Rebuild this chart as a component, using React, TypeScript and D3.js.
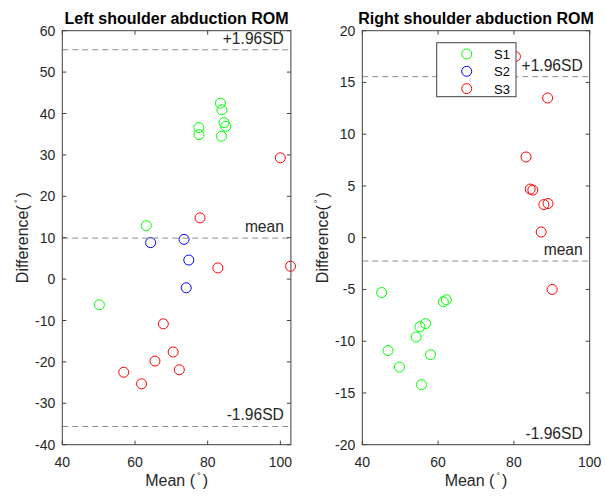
import React from 'react';
import * as d3 from 'd3';

type Pt = [number, number]; // [mean, difference]

// Left shoulder
const leftS1: Pt[] = [[83.5, 42.5], [83.9, 40.9], [84.5, 37.8], [85.0, 36.9], [77.6, 36.6], [77.6, 34.9], [83.8, 34.5], [63.1, 12.9], [50.2, -6.2]];
const leftS2: Pt[] = [[64.3, 8.8], [73.5, 9.6], [74.8, 4.6], [74.1, -2.1]];
const leftS3: Pt[] = [[100.0, 29.3], [77.9, 14.8], [82.8, 2.7], [102.8, 3.1], [67.8, -10.8], [70.5, -17.6], [65.5, -19.8], [72.2, -21.9], [56.9, -22.5], [61.8, -25.3]];
const leftLimits = [55.4, 9.9, -35.6];
const leftXTicks = [40, 60, 80, 100];
const leftYTicks = [-40, -30, -20, -10, 0, 10, 20, 30, 40, 50, 60];

// Right shoulder
const rightS1: Pt[] = [[45.1, -5.3], [61.4, -6.2], [62.2, -6.0], [55.2, -8.6], [56.7, -8.3], [54.2, -9.6], [46.8, -10.9], [58.0, -11.3], [49.8, -12.5], [55.6, -14.2]];
const rightS2: Pt[] = [];
const rightS3: Pt[] = [[80.4, 17.5], [88.9, 13.5], [83.2, 7.8], [84.3, 4.7], [85.0, 4.6], [87.9, 3.2], [89.0, 3.3], [87.2, 0.55], [90.1, -5.0]];
const rightLimits = [15.56, -2.25, -20.06];
const rightXTicks = [40, 60, 80, 100];
const rightYTicks = [-20, -15, -10, -5, 0, 5, 10, 15, 20];

const limitLabels = ['+1.96SD', 'mean', '-1.96SD'];
const seriesNames = ['S1', 'S2', 'S3'];
const seriesColors = ['#00ff00', '#0000ff', '#ff0000'];

const FONT = '"Liberation Sans", Arial, Helvetica, sans-serif';
const AX = '#404040';
const TXT = '#262626';
const TOP = 30.7;
const BOTTOM = 444.7;

interface PanelProps {
  id: string;
  title: string;
  x0: number;
  x1: number;
  xDomain: [number, number];
  yDomain: [number, number];
  xTicks: number[];
  yTicks: number[];
  series: Pt[][];
  limits: number[];
  legend?: boolean;
}

const Degree = () => (
  <>
    <tspan dx="2" dy="-7" fontSize="9">°</tspan>
    <tspan dx="2" dy="7">)</tspan>
  </>
);

const Panel: React.FC<PanelProps> = ({ id, title, x0, x1, xDomain, yDomain, xTicks, yTicks, series, limits, legend }) => {
  const x = d3.scaleLinear().domain(xDomain).range([x0, x1]);
  const y = d3.scaleLinear().domain(yDomain).range([BOTTOM, TOP]);
  const cx = (x0 + x1) / 2;
  const cy = (TOP + BOTTOM) / 2;
  const tl = 4;

  return (
    <g fontFamily={FONT}>
      <defs>
        <clipPath id={`clip-${id}`}>
          <rect x={x0} y={TOP} width={x1 - x0} height={BOTTOM - TOP} />
        </clipPath>
      </defs>

      {/* points */}
      {series.map((pts, si) =>
        pts.map((d, i) => (
          <circle key={`${si}-${i}`} cx={x(d[0])} cy={y(d[1])} r={5}
            fill="none" stroke={seriesColors[si]} strokeWidth={1} />
        ))
      )}

      {/* limits of agreement */}
      <g clipPath={`url(#clip-${id})`}>
        {limits.map((v, i) => (
          <line key={i} x1={x0} x2={x1} y1={y(v)} y2={y(v)}
            stroke="#8c8c8c" strokeWidth={1} strokeDasharray="6,4" />
        ))}
      </g>
      {limits.map((v, i) => (
        <text key={i} x={x1 - 7} y={Math.min(y(v), BOTTOM) - 6} textAnchor="end"
          fontSize={15.6} fill={TXT}>{limitLabels[i]}</text>
      ))}

      {/* box */}
      <rect x={x0} y={TOP} width={x1 - x0} height={BOTTOM - TOP} fill="none" stroke={AX} strokeWidth={1} />
      {xTicks.map(t => (
        <g key={`xt${t}`}>
          <line x1={x(t)} x2={x(t)} y1={BOTTOM} y2={BOTTOM - tl} stroke={AX} />
          <line x1={x(t)} x2={x(t)} y1={TOP} y2={TOP + tl} stroke={AX} />
          <text x={x(t)} y={BOTTOM + 22} textAnchor="middle" fontSize={14} fill={TXT}>{t}</text>
        </g>
      ))}
      {yTicks.map(t => (
        <g key={`yt${t}`}>
          <line x1={x0} x2={x0 + tl} y1={y(t)} y2={y(t)} stroke={AX} />
          <line x1={x1} x2={x1 - tl} y1={y(t)} y2={y(t)} stroke={AX} />
          <text x={x0 - 7} y={y(t) + 5} textAnchor="end" fontSize={14} fill={TXT}>{t}</text>
        </g>
      ))}

      {/* labels */}
      <text x={cx} y={24} textAnchor="middle" fontSize={16} fontWeight="bold" fill="#000">{title}</text>
      <text x={cx} y={486} textAnchor="middle" fontSize={16} fill={TXT}>
        Mean (<Degree />
      </text>
      <text transform={`translate(${x0 - 34},${cy}) rotate(-90)`} textAnchor="middle" fontSize={16} fill={TXT}>
        Difference(<Degree />
      </text>

      {legend && (
        <g>
          <rect x={436.7} y={42.7} width={79.3} height={54} fill="#fff" stroke={AX} strokeWidth={1} />
          {seriesNames.map((n, i) => (
            <g key={n}>
              <circle cx={466.7} cy={54 + i * 17.3} r={5} fill="none" stroke={seriesColors[i]} strokeWidth={1} />
              <text x={494} y={54 + i * 17.3 + 5} fontSize={13} fill="#000">{n}</text>
            </g>
          ))}
        </g>
      )}
    </g>
  );
};

export default function App() {
  return (
    <svg width={605} height={497} style={{ position: 'absolute', left: 0, top: 0, background: '#fff' }}>
      <Panel id="l" title="Left shoulder abduction ROM" x0={62.3} x1={290.9} xDomain={[40, 102.9]} yDomain={[-40, 60]}
        xTicks={leftXTicks} yTicks={leftYTicks} series={[leftS1, leftS2, leftS3]} limits={leftLimits} />
      <Panel id="r" title="Right shoulder abduction ROM" x0={362.3} x1={589.7} xDomain={[40, 100]} yDomain={[-20, 20]}
        xTicks={rightXTicks} yTicks={rightYTicks} series={[rightS1, rightS2, rightS3]} limits={rightLimits} legend />
    </svg>
  );
}
